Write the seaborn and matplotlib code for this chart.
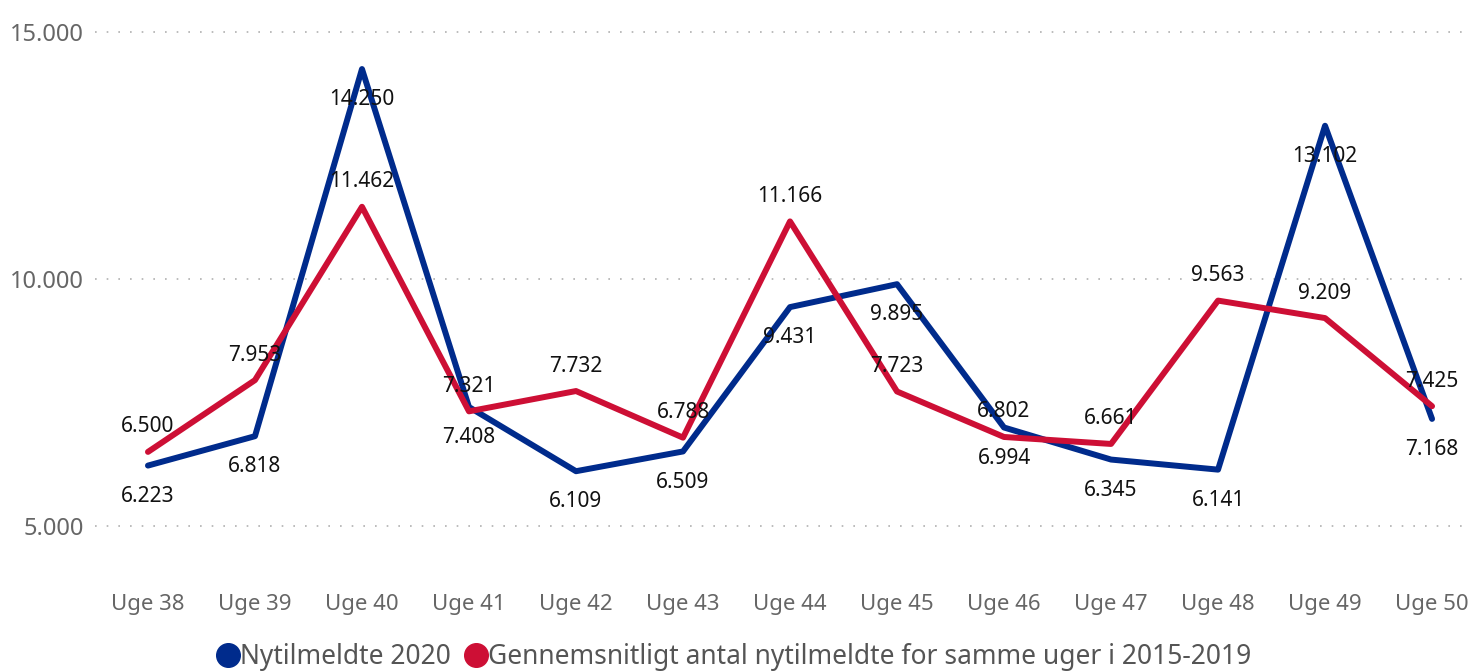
import matplotlib
matplotlib.use("Agg")
import matplotlib.pyplot as plt
import seaborn as sns
import pandas as pd
from matplotlib.lines import Line2D

weeks = ["Uge 38", "Uge 39", "Uge 40", "Uge 41", "Uge 42", "Uge 43", "Uge 44",
         "Uge 45", "Uge 46", "Uge 47", "Uge 48", "Uge 49", "Uge 50"]
nytilmeldte_2020 = [6223, 6818, 14250, 7408, 6109, 6509, 9431, 9895, 6994, 6345, 6141, 13102, 7168]
gennemsnit_2015_2019 = [6500, 7953, 11462, 7321, 7732, 6788, 11166, 7723, 6802, 6661, 9563, 9209, 7425]
series_names = ["Nytilmeldte 2020", "Gennemsnitligt antal nytilmeldte for samme uger i 2015-2019"]
y_ticks = [5000, 10000, 15000]

BLUE = "#002B8C"
RED = "#CD0F35"

sns.set_style("white")
plt.rcParams["font.family"] = ["Noto Sans", "DejaVu Sans"]

df = pd.DataFrame({
    "week": weeks * 2,
    "x": list(range(len(weeks))) * 2,
    "value": nytilmeldte_2020 + gennemsnit_2015_2019,
    "series": [series_names[0]] * len(weeks) + [series_names[1]] * len(weeks),
})

fig = plt.figure(figsize=(14.68, 6.72), dpi=100)
ax = fig.add_axes([95 / 1468, 1 - 575 / 672, (1468 - 95) / 1468, (575 - 20) / 672])

sns.lineplot(data=df, x="x", y="value", hue="series", hue_order=series_names,
             palette=[BLUE, RED], linewidth=4.3, ax=ax, legend=False, sort=False)

ax.set_xlim(-0.495, 12.336)
ax.set_ylim(4008, 15243)
ax.set_yticks(y_ticks)
ax.set_yticklabels([f"{v:,}".replace(",", ".") for v in y_ticks])
ax.set_xticks(range(len(weeks)))
ax.set_xticklabels(weeks)
ax.tick_params(axis="y", labelsize=17, colors="#666666", length=0)
ax.tick_params(axis="x", labelsize=16, colors="#666666", length=0, pad=14)
ax.yaxis.set_tick_params(pad=8)
ax.set_xlabel("")
ax.set_ylabel("")
for s in ax.spines.values():
    s.set_visible(False)
ax.grid(axis="y", color="#B0B0B0", linestyle=(0, (1, 6)), linewidth=1.2)
ax.set_axisbelow(True)

def fmt(v):
    return f"{v:,}".replace(",", ".")

for i, v in enumerate(nytilmeldte_2020):
    ax.annotate(fmt(v), (i, v), xytext=(0, -22), textcoords="offset points",
                ha="center", va="center", fontsize=15, color="#111111")
for i, v in enumerate(gennemsnit_2015_2019):
    ax.annotate(fmt(v), (i, v), xytext=(0, 18), textcoords="offset points",
                ha="center", va="center", fontsize=15, color="#111111")

handles = [Line2D([0], [0], marker="o", linestyle="", markersize=17,
                  markerfacecolor=c, markeredgecolor=c) for c in (BLUE, RED)]
leg = fig.legend(handles, series_names, loc="center", bbox_to_anchor=(0.5, 1 - 657 / 672),
                 ncol=2, frameon=False, fontsize=19, handletextpad=0.0,
                 columnspacing=0.5, handlelength=0.9, borderaxespad=0)
for t in leg.get_texts():
    t.set_color("#555555")

fig.savefig("out.png", dpi=100)
